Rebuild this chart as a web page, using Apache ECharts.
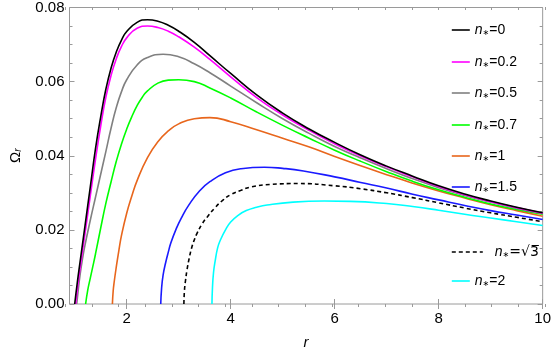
<!DOCTYPE html>
<html><head><meta charset="utf-8">
<script src="https://cdn.jsdelivr.net/npm/echarts@6/dist/echarts.min.js"></script>
<style>html,body{margin:0;padding:0;background:#fff}#c{width:554px;height:355px}</style>
</head><body><div id="c"></div>
<script>
// tick values
const xTicks = [2, 4, 6, 8, 10];
const xMinorTicks = [1, 1.5, 2, 2.5, 3, 3.5, 4, 4.5, 5, 5.5, 6, 6.5, 7, 7.5, 8, 8.5, 9, 9.5, 10];
const yTicks = [0, 0.02, 0.04, 0.06, 0.08];

// series: r values and Omega_r values
const r_n0  = [1.0,1.05,1.1,1.2,1.3,1.4,1.5,1.6,1.7,1.8,1.9,2.0,2.2,2.4,2.6,2.8,3.0,3.3,3.6,4.0,4.5,5.0,5.5,6.0,6.5,7.0,7.5,8.0,8.5,9.0,9.5,10];
const om_n0 = [0,0.0058,0.0110,0.0213,0.0316,0.0419,0.0505,0.0580,0.0637,0.0680,0.0712,0.0735,0.0760,0.0767,0.0763,0.0752,0.0736,0.0706,0.0670,0.0622,0.0564,0.0515,0.0473,0.0436,0.0402,0.0372,0.0345,0.0319,0.0297,0.0278,0.0261,0.0246];

const r_n02  = [1.02,1.06,1.1,1.2,1.3,1.4,1.5,1.6,1.7,1.8,1.9,2.0,2.2,2.4,2.6,2.8,3.0,3.3,3.6,4.0,4.5,5.0,5.5,6.0,6.5,7.0,7.5,8.0,8.5,9.0,9.5,10];
const om_n02 = [0,0.0050,0.0092,0.0192,0.0292,0.0390,0.0480,0.0558,0.0617,0.0662,0.0695,0.0718,0.0744,0.0750,0.0746,0.0736,0.0721,0.0693,0.0660,0.0613,0.0557,0.0510,0.0469,0.0432,0.0399,0.0370,0.0343,0.0317,0.0295,0.0276,0.0260,0.0245];

const r_n05  = [1.04,1.07,1.1,1.15,1.2,1.3,1.4,1.5,1.6,1.7,1.8,1.9,2.0,2.2,2.4,2.7,3.0,3.3,3.6,4.0,4.5,5.0,5.5,6.0,6.5,7.0,7.5,8.0,8.5,9.0,9.5,10];
const om_n05 = [0,0.0040,0.0075,0.0122,0.0160,0.0226,0.0288,0.0350,0.0412,0.0475,0.0530,0.0573,0.0605,0.0645,0.0665,0.0674,0.0667,0.0648,0.0624,0.0588,0.0543,0.0500,0.0461,0.0425,0.0394,0.0365,0.0338,0.0314,0.0293,0.0275,0.0258,0.0244];

const r_n07  = [1.21,1.25,1.3,1.35,1.4,1.5,1.6,1.7,1.8,1.9,2.0,2.1,2.2,2.3,2.4,2.6,2.8,3.0,3.3,3.6,4.0,4.5,5.0,5.5,6.0,6.5,7.0,7.5,8.0,8.5,9.0,9.5,10];
const om_n07 = [0,0.0037,0.0070,0.0102,0.0135,0.0205,0.0272,0.0330,0.0385,0.0432,0.0472,0.0506,0.0535,0.0558,0.0575,0.0596,0.0604,0.0605,0.0600,0.0583,0.0556,0.0518,0.0482,0.0448,0.0415,0.0385,0.0357,0.0331,0.0308,0.0288,0.0270,0.0255,0.0242];

const r_n1  = [1.725,1.74,1.76,1.8,1.85,1.9,2.0,2.1,2.2,2.4,2.6,2.8,3.0,3.3,3.6,4.0,4.5,5.0,5.5,6.0,6.5,7.0,7.5,8.0,8.5,9.0,9.5,10];
const om_n1 = [0,0.0035,0.0060,0.0100,0.0145,0.0185,0.0245,0.0292,0.0333,0.0395,0.0438,0.0467,0.0486,0.0500,0.0503,0.0492,0.0470,0.0447,0.0424,0.0398,0.0373,0.0349,0.0326,0.0305,0.0286,0.0268,0.0252,0.0237];

const r_n15  = [2.655,2.67,2.7,2.75,2.8,2.85,2.95,3.05,3.2,3.4,3.6,3.9,4.2,4.65,5.0,5.4,6.0,6.5,7.0,7.5,8.0,8.5,9.0,9.5,10];
const om_n15 = [0,0.0040,0.0078,0.0112,0.0140,0.0165,0.0202,0.0232,0.0268,0.0305,0.0330,0.0354,0.0365,0.0369,0.0366,0.0359,0.0343,0.0328,0.0313,0.0296,0.0281,0.0266,0.0252,0.0240,0.0228];

const r_nsq3  = [3.10,3.11,3.13,3.16,3.2,3.25,3.3,3.35,3.45,3.55,3.7,3.85,4.0,4.2,4.4,4.8,5.3,6.0,6.5,7.0,7.5,8.0,8.5,9.0,9.5,10];
const om_nsq3 = [0,0.0035,0.0062,0.0092,0.0122,0.0152,0.0173,0.0190,0.0216,0.0235,0.0260,0.0280,0.0295,0.0307,0.0316,0.0323,0.0325,0.0319,0.0311,0.0300,0.0287,0.0273,0.0259,0.0246,0.0234,0.0222];

const r_n2  = [3.64,3.65,3.67,3.7,3.75,3.8,3.9,4.0,4.15,4.3,4.5,4.7,5.2,5.8,6.3,7.0,7.5,8.0,8.5,9.0,9.5,10];
const om_n2 = [0,0.0045,0.0085,0.0115,0.0152,0.0172,0.0200,0.0221,0.0240,0.0252,0.0261,0.0267,0.0275,0.0278,0.0277,0.0271,0.0263,0.0253,0.0242,0.0232,0.0222,0.0212];

const names = ['0', '0.2', '0.5', '0.7', '1', '1.5', 'sqrt3', '2'];
const colors = ['#000000', '#ff00ff', '#808080', '#00ff00', '#e8661c', '#1a1aff', '#000000', '#00ffff'];
const rs = [r_n0, r_n02, r_n05, r_n07, r_n1, r_n15, r_nsq3, r_n2];
const oms = [om_n0, om_n02, om_n05, om_n07, om_n1, om_n15, om_nsq3, om_n2];
const legendCenters = [30, 62, 93, 125, 156, 187, 252, 281];

const FONT = 'Liberation Sans';
const series = names.map((n, i) => ({
  name: n,
  type: 'line',
  xAxisIndex: 0, yAxisIndex: 0,
  data: rs[i].map((r, k) => [r, oms[i][k]]),
  symbol: 'none',
  smooth: 0.5,
  lineStyle: { color: colors[i], width: 1.6, type: n === 'sqrt3' ? [4, 3] : 'solid' },
  itemStyle: { color: colors[i] },
  z: 10 - i
}));

const rich = {
  i: { fontFamily: FONT, fontStyle: 'italic', fontSize: 14, lineHeight: 14, color: '#000' },
  ip: { fontFamily: FONT, fontStyle: 'italic', fontSize: 14, lineHeight: 14, color: '#000', padding: [0, 0, 0, 7] },
  s: { fontFamily: 'DejaVu Sans', fontSize: 8, lineHeight: 8, verticalAlign: 'bottom', color: '#000' },
  t: { fontFamily: FONT, fontSize: 14, lineHeight: 14, color: '#000' },
  q: { fontFamily: 'DejaVu Sans', fontSize: 14, lineHeight: 14, color: '#000' }
};
const legends = names.map((n, i) => ({
  data: [n],
  left: 451,
  top: legendCenters[i] - 7,
  orient: 'vertical',
  itemWidth: n === 'sqrt3' ? 31 : 18,
  itemHeight: 14,
  selectedMode: false,
  padding: 0,
  itemStyle: { opacity: 0 },
  lineStyle: { width: 1.6 },
  textStyle: { rich: rich, fontFamily: FONT, fontSize: 14, lineHeight: 14 },
  formatter: function (name) {
    if (name === 'sqrt3') return '{ip|n}{s|∗}{q|=√3\u0305}';
    return '{i|n}{s|∗}{t|=' + name + '}';
  }
}));

const tickColor = '#9a9a9a';
const option = {
  animation: false,
  backgroundColor: '#fff',
  grid: [
    { left: 60, right: 9, top: 7, bottom: 48, show: true, borderColor: tickColor, borderWidth: 1, backgroundColor: 'transparent' },
    { left: 60, right: 9, top: 7, bottom: 48, show: false }
  ],
  legend: legends,
  xAxis: [
    { gridIndex: 0, type: 'value', min: 0.9, max: 10, position: 'bottom',
      axisLine: { show: false }, splitLine: { show: false },
      axisTick: { show: true, inside: true, length: 5, customValues: xTicks, lineStyle: { color: tickColor } },
      axisLabel: { customValues: xTicks, margin: 7, color: '#000', fontFamily: FONT, fontSize: 15 },
      name: 'r', nameLocation: 'middle', nameGap: 31,
      nameTextStyle: { fontFamily: FONT, fontStyle: 'italic', fontSize: 15, color: '#000' } },
    { gridIndex: 0, type: 'value', min: 0.9, max: 10, position: 'top',
      axisLine: { show: false }, splitLine: { show: false },
      axisTick: { show: true, inside: true, length: 5, customValues: xTicks, lineStyle: { color: tickColor } },
      axisLabel: { show: false } },
    { gridIndex: 1, type: 'value', min: 0.9, max: 10, position: 'bottom',
      axisLine: { show: false }, splitLine: { show: false },
      axisTick: { show: true, inside: true, length: 3, customValues: xMinorTicks, lineStyle: { color: tickColor } },
      axisLabel: { show: false } },
    { gridIndex: 1, type: 'value', min: 0.9, max: 10, position: 'top',
      axisLine: { show: false }, splitLine: { show: false },
      axisTick: { show: true, inside: true, length: 3, customValues: xMinorTicks, lineStyle: { color: tickColor } },
      axisLabel: { show: false } }
  ],
  yAxis: [
    { gridIndex: 0, type: 'value', min: 0, max: 0.08, interval: 0.02, position: 'left',
      axisLine: { show: false }, splitLine: { show: false },
      axisTick: { show: true, inside: true, length: 5, lineStyle: { color: tickColor } },
      minorTick: { show: true, splitNumber: 4, length: 3, lineStyle: { color: tickColor } },
      axisLabel: { margin: 5, color: '#000', fontFamily: FONT, fontSize: 15, formatter: v => v.toFixed(2) },
      name: '{o|Ω}{r|r}', nameLocation: 'middle', nameGap: 46, nameRotate: 90,
      nameTextStyle: { rich: {
        o: { fontFamily: FONT, fontSize: 15, color: '#000', lineHeight: 16 },
        r: { fontFamily: FONT, fontStyle: 'italic', fontSize: 10, color: '#000', lineHeight: 9, verticalAlign: 'bottom' }
      } } },
    { gridIndex: 0, type: 'value', min: 0, max: 0.08, interval: 0.02, position: 'right',
      axisLine: { show: false }, splitLine: { show: false },
      axisTick: { show: true, inside: true, length: 5, lineStyle: { color: tickColor } },
      minorTick: { show: true, splitNumber: 4, length: 3, lineStyle: { color: tickColor } },
      axisLabel: { show: false } },
    { gridIndex: 1, type: 'value', min: 0, max: 0.08, show: false }
  ],
  series: series
};
const chart = echarts.init(document.getElementById('c'), null, { renderer: 'canvas' });
chart.setOption(option);
</script>
</body></html>
